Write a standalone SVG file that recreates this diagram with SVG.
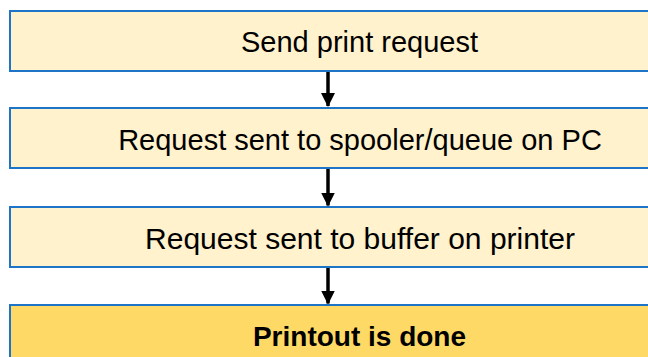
<svg xmlns="http://www.w3.org/2000/svg" width="648" height="357" viewBox="0 0 648 357">
  <defs>
    <!-- arrowhead drawn along +x so orient="auto" points it along the line -->
    <marker id="arrowhead" markerUnits="userSpaceOnUse" markerWidth="14" markerHeight="14" viewBox="0 0 14 14" refX="13" refY="7" orient="auto">
      <path d="M0,0 L14,7 L0,14 Z" fill="#000"/>
    </marker>
    <style>
      .box { fill: #FFF2CC; stroke: #1E74C6; stroke-width: 2; }
      .final { fill: #FFD966; }
      .label { font-family: "Liberation Sans", Arial, sans-serif; font-size: 29px; fill: #000; text-anchor: middle; }
      .bold { font-weight: bold; font-size: 28px; }
      .conn { stroke: #000; stroke-width: 3.5; fill: none; }
    </style>
  </defs>

  <g id="send-request">
    <rect class="box" x="10" y="11" width="700" height="60"/>
    <text class="label" x="359.5" y="51.5">Send print request</text>
  </g>

  <g id="spooler">
    <rect class="box" x="10" y="108" width="700" height="60"/>
    <text class="label" x="360" y="150">Request sent to spooler/queue on PC</text>
  </g>

  <g id="buffer">
    <rect class="box" x="10" y="207" width="700" height="60"/>
    <text class="label" x="360" y="249" textLength="430" lengthAdjust="spacingAndGlyphs">Request sent to buffer on printer</text>
  </g>

  <g id="printout">
    <rect class="box final" x="10" y="305" width="700" height="60"/>
    <text class="label bold" x="359.5" y="346">Printout is done</text>
  </g>

  <g id="connectors">
    <line class="conn" x1="328" y1="72" x2="328" y2="106" marker-end="url(#arrowhead)"/>
    <line class="conn" x1="328" y1="169" x2="328" y2="205.5" marker-end="url(#arrowhead)"/>
    <line class="conn" x1="328" y1="268" x2="328" y2="303.5" marker-end="url(#arrowhead)"/>
  </g>
</svg>
